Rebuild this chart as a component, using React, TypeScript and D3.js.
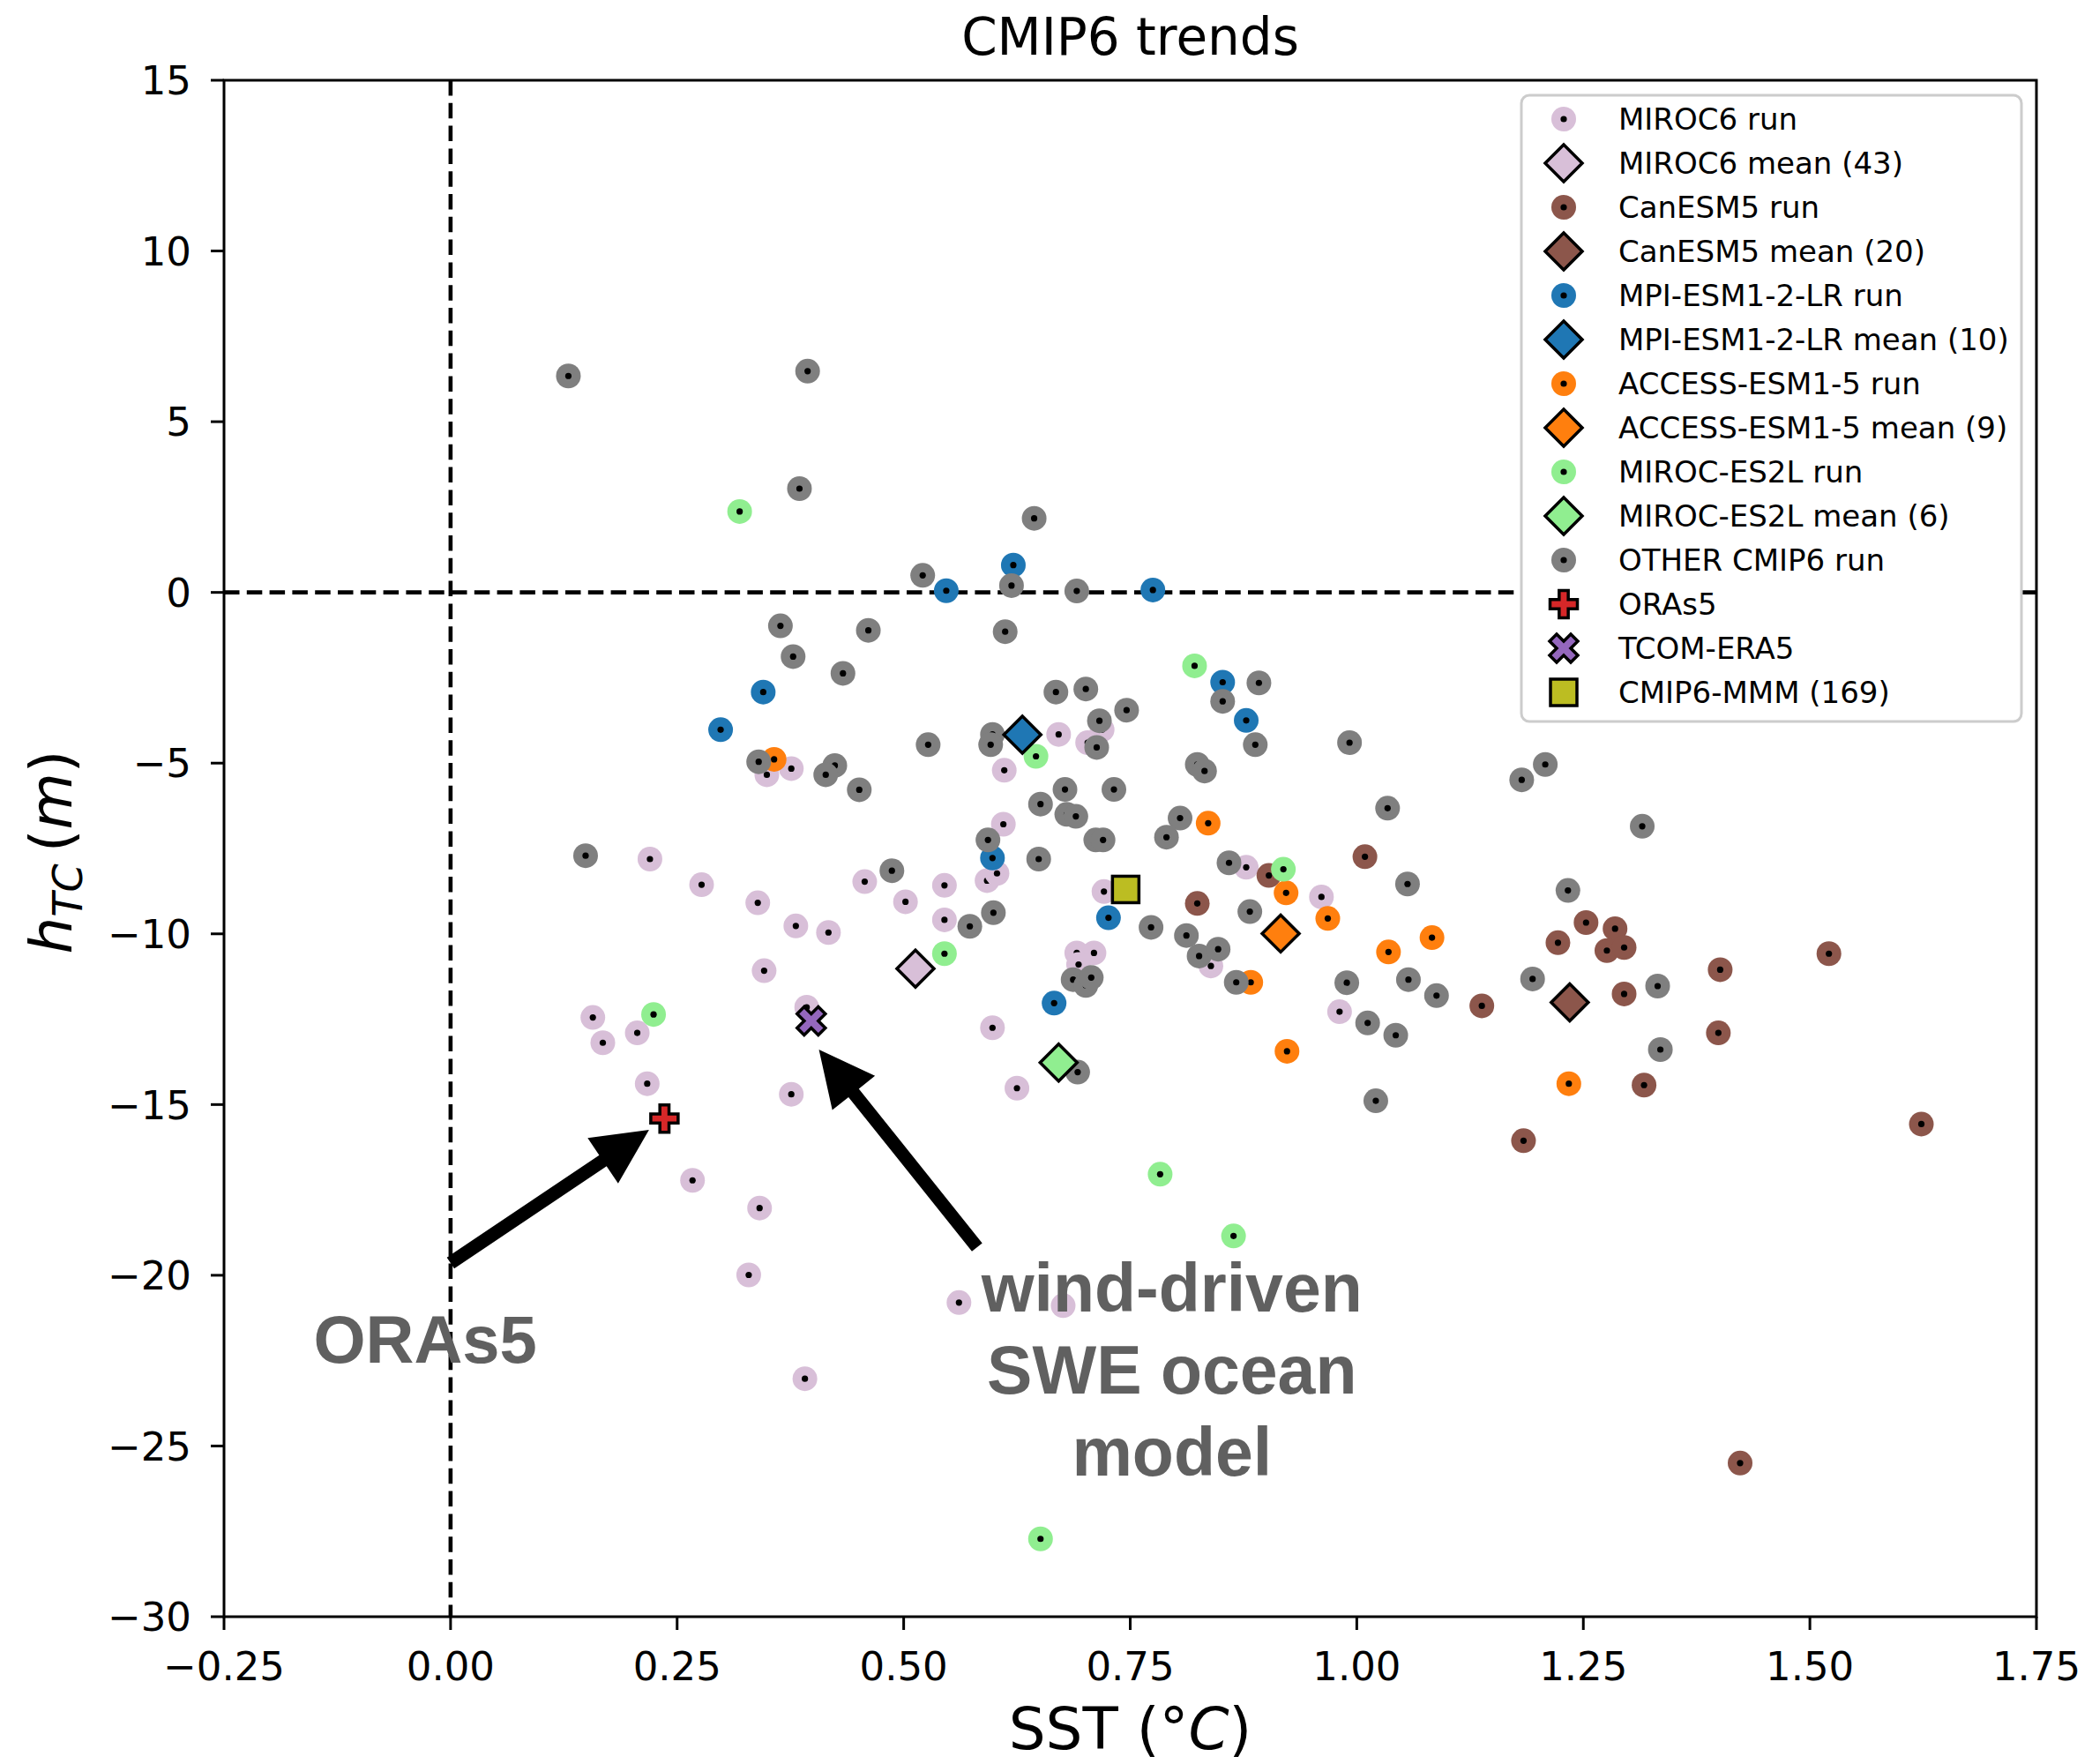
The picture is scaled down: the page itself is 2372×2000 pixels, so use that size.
import React from "react";
import * as d3 from "d3";

const W = 2372;
const H = 2000;
const plot = { left: 254, right: 2309, top: 91, bottom: 1833 };

const xTicks = [-0.25, 0, 0.25, 0.5, 0.75, 1, 1.25, 1.5, 1.75];
const yTicks = [15, 10, 5, 0, -5, -10, -15, -20, -25, -30];

// runs: [SST trend, hTC trend]
const miroc6Runs = [
  [0.671, -4.16], [0.703, -4.4], [0.719, -4.02], [0.611, -5.21], [0.376, -5.16],
  [0.349, -5.34], [0.61, -6.79], [0.592, -8.44], [0.603, -8.23], [0.22, -7.81],
  [0.277, -8.56], [0.339, -9.09], [0.457, -8.47], [0.502, -9.06], [0.545, -8.58],
  [0.545, -9.59], [0.381, -9.77], [0.417, -9.96], [0.721, -8.76], [0.878, -8.05],
  [0.961, -8.92], [0.691, -10.56], [0.71, -10.56], [0.693, -10.9], [0.839, -10.94],
  [0.346, -11.08], [0.393, -12.15], [0.206, -12.9], [0.598, -12.75], [0.217, -14.39],
  [0.376, -14.7], [0.625, -14.52], [0.267, -17.22], [0.341, -18.03], [0.157, -12.45],
  [0.168, -13.19], [0.329, -19.99], [0.561, -20.8], [0.676, -20.89], [0.391, -23.03],
  [0.981, -12.28],
];
const canesm5Runs = [
  [0.903, -8.29], [0.824, -9.11], [1.009, -7.74], [1.253, -9.67], [1.285, -9.85],
  [1.222, -10.26], [1.276, -10.49], [1.295, -10.4], [1.521, -10.58], [1.138, -12.11],
  [1.295, -11.76], [1.401, -11.05], [1.399, -12.9], [1.317, -14.43], [1.184, -16.06],
  [1.623, -15.57], [1.423, -25.5],
];
const mpiRuns = [
  [0.547, 0.05], [0.621, 0.8], [0.775, 0.07], [0.345, -2.92], [0.298, -4.02],
  [0.852, -2.63], [0.878, -3.75], [0.598, -7.78], [0.726, -9.53], [0.666, -12.03],
];
const accessRuns = [
  [0.357, -4.89], [0.836, -6.76], [0.922, -8.8], [0.883, -11.42], [0.923, -13.44],
  [0.968, -9.55], [1.083, -10.11], [1.035, -10.53], [1.234, -14.39],
];
const miroces2lRuns = [
  [0.319, 2.37], [0.821, -2.15], [0.646, -4.8], [0.919, -8.11], [0.545, -10.58],
  [0.224, -12.36], [0.783, -17.04], [0.864, -18.85], [0.651, -27.72],
];
const otherRuns = [
  [0.13, 6.34], [0.394, 6.48], [0.385, 3.04], [0.644, 2.17], [0.521, 0.5],
  [0.619, 0.2], [0.691, 0.04], [0.364, -0.98], [0.461, -1.11], [0.612, -1.15],
  [0.378, -1.88], [0.433, -2.37], [0.668, -2.92], [0.701, -2.83], [0.746, -3.45],
  [0.716, -3.76], [0.598, -4.16], [0.596, -4.46], [0.527, -4.46], [0.34, -4.96],
  [0.424, -5.07], [0.414, -5.34], [0.451, -5.78], [0.678, -5.77], [0.732, -5.77],
  [0.651, -6.2], [0.68, -6.5], [0.69, -6.56], [0.712, -7.25], [0.72, -7.25],
  [0.805, -6.61], [0.79, -7.17], [0.593, -7.25], [0.649, -7.81], [0.487, -8.15],
  [0.859, -7.92], [0.824, -5.04], [0.832, -5.23], [0.892, -2.65], [0.852, -3.19],
  [0.888, -4.46], [0.599, -9.38], [0.573, -9.78], [0.773, -9.81], [0.812, -10.05],
  [0.826, -10.65], [0.847, -10.45], [0.882, -9.35], [0.687, -11.34], [0.701, -11.51],
  [0.707, -11.28], [0.867, -11.42], [0.692, -14.05], [0.713, -4.54], [0.149, -7.71],
  [0.992, -4.4], [1.208, -5.04], [1.182, -5.49], [1.034, -6.32], [1.315, -6.85],
  [1.056, -8.54], [1.233, -8.73], [0.989, -11.43], [1.057, -11.34], [1.088, -11.81],
  [1.194, -11.32], [1.332, -11.53], [1.012, -12.61], [1.043, -12.97], [1.335, -13.39],
  [1.021, -14.89],
];

// ensemble means
const modelMeans = [
  { name: "MIROC6", n: 43, color: "#d8bfd8", pt: [0.513, -11.02] },
  { name: "CanESM5", n: 20, color: "#8c564b", pt: [1.235, -12.01] },
  { name: "MPI-ESM1-2-LR", n: 10, color: "#1f77b4", pt: [0.631, -4.17] },
  { name: "ACCESS-ESM1-5", n: 9, color: "#ff7f0e", pt: [0.916, -9.99] },
  { name: "MIROC-ES2L", n: 6, color: "#90ee90", pt: [0.671, -13.77] },
];

const oras5 = [0.236, -15.41];
const tcomEra5 = [0.398, -12.55];
const cmip6Mmm = [0.745, -8.7];

// annotations (data coords)
const oras5Arrow = [[0.0, -19.64], [0.219, -15.74]];
const sweArrow = [[0.581, -19.18], [0.4065, -13.39]];
const sweLines = ["wind-driven", "SWE ocean", "model"];

const x = d3.scaleLinear().domain([-0.25, 1.75]).range([plot.left, plot.right]);
const y = d3.scaleLinear().domain([-30, 15]).range([plot.bottom, plot.top]);
const fmtX = d3.format(".2f");
const fmtY = d3.format("d");

const runGroups = [
  { data: miroc6Runs, color: "#d8bfd8" },
  { data: canesm5Runs, color: "#8c564b" },
  { data: mpiRuns, color: "#1f77b4" },
  { data: accessRuns, color: "#ff7f0e" },
  { data: miroces2lRuns, color: "#90ee90" },
  { data: otherRuns, color: "#7f7f7f" },
];

const plusPath = d3.symbol(d3.symbolCross, 534)();
const xPath = d3.symbol(d3.symbolCross, 640)();
const diamond = (h) => `M0,${-h}L${h},0L0,${h}L${-h},0Z`;

function Run({ cx, cy, color }) {
  return (
    <g>
      <circle cx={cx} cy={cy} r={14} fill={color} />
      <circle cx={cx} cy={cy} r={3.6} fill="#000" />
    </g>
  );
}

function arrowPath(p1, p2) {
  const x1 = x(p1[0]), y1 = y(p1[1]), x2 = x(p2[0]), y2 = y(p2[1]);
  const len = Math.hypot(x2 - x1, y2 - y1);
  const ux = (x2 - x1) / len, uy = (y2 - y1) / len;
  const px = -uy, py = ux;
  const sw = 7.5, hw = 31, hl = 63;
  const bx = x2 - ux * hl, by = y2 - uy * hl;
  const pts = [
    [x1 + px * sw, y1 + py * sw],
    [bx + px * sw, by + py * sw],
    [bx + px * hw, by + py * hw],
    [x2, y2],
    [bx - px * hw, by - py * hw],
    [bx - px * sw, by - py * sw],
    [x1 - px * sw, y1 - py * sw],
  ];
  return "M" + pts.map((p) => p.join(",")).join("L") + "Z";
}

const legendItems = [];
modelMeans.forEach((m) => {
  legendItems.push({ label: `${m.name} run`, kind: "run", color: m.color });
  legendItems.push({ label: `${m.name} mean (${m.n})`, kind: "mean", color: m.color });
});
legendItems.push({ label: "OTHER CMIP6 run", kind: "run", color: "#7f7f7f" });
legendItems.push({ label: "ORAs5", kind: "plus", color: "#d62728" });
legendItems.push({ label: "TCOM-ERA5", kind: "x", color: "#9467bd" });
legendItems.push({ label: "CMIP6-MMM (169)", kind: "square", color: "#bcbd22" });

function Marker({ kind, color, cx, cy }) {
  if (kind === "run") return <Run cx={cx} cy={cy} color={color} />;
  if (kind === "mean")
    return <path d={diamond(21)} transform={`translate(${cx},${cy})`} fill={color} stroke="#000" strokeWidth={3.5} />;
  if (kind === "plus")
    return <path d={plusPath} transform={`translate(${cx},${cy})`} fill={color} stroke="#000" strokeWidth={3.5} />;
  if (kind === "x")
    return <path d={xPath} transform={`translate(${cx},${cy}) rotate(45)`} fill={color} stroke="#000" strokeWidth={3.5} />;
  return <rect x={cx - 15} y={cy - 15} width={30} height={30} fill={color} stroke="#000" strokeWidth={3.5} />;
}

export default function App() {
  const font = "DejaVu Sans, sans-serif";
  const annFont = "Liberation Sans, Arial, sans-serif";
  return (
    <svg width={W} height={H} style={{ position: "absolute", left: 0, top: 0, background: "#fff" }} fontFamily={font}>
      <rect width={W} height={H} fill="#fff" />
      <text x={(plot.left + plot.right) / 2} y={62} fontSize={58} textAnchor="middle">CMIP6 trends</text>

      {/* reference lines */}
      <line x1={x(0)} x2={x(0)} y1={plot.top} y2={plot.bottom} stroke="#000" strokeWidth={4.6} strokeDasharray="17.5 8.3" />
      <line x1={plot.left} x2={plot.right} y1={y(0)} y2={y(0)} stroke="#000" strokeWidth={4.6} strokeDasharray="17.5 8.3" />

      {/* runs */}
      {runGroups.map((g, gi) => (
        <g key={gi}>
          {g.data.map((d, i) => (
            <Run key={i} cx={x(d[0])} cy={y(d[1])} color={g.color} />
          ))}
        </g>
      ))}
      {modelMeans.map((m) => (
        <Marker key={m.name} kind="mean" color={m.color} cx={x(m.pt[0])} cy={y(m.pt[1])} />
      ))}
      <Marker kind="plus" color="#d62728" cx={x(oras5[0])} cy={y(oras5[1])} />
      <Marker kind="x" color="#9467bd" cx={x(tcomEra5[0])} cy={y(tcomEra5[1])} />
      <Marker kind="square" color="#bcbd22" cx={x(cmip6Mmm[0])} cy={y(cmip6Mmm[1])} />

      {/* annotations */}
      <path d={arrowPath(oras5Arrow[0], oras5Arrow[1])} fill="#000" />
      <path d={arrowPath(sweArrow[0], sweArrow[1])} fill="#000" />
      <text x={x(-0.028)} y={y(-22.56)} fontFamily={annFont} fontWeight="bold" fontSize={76} fill="#606060" textAnchor="middle">ORAs5</text>
      <text fontFamily={annFont} fontWeight="bold" fontSize={77} fill="#606060" textAnchor="middle">
        {sweLines.map((s, i) => (
          <tspan key={i} x={x(0.796)} y={y(-21.07) + i * 93}>{s}</tspan>
        ))}
      </text>

      {/* frame */}
      <rect x={plot.left} y={plot.top} width={plot.right - plot.left} height={plot.bottom - plot.top} fill="none" stroke="#000" strokeWidth={3} />

      {/* x axis */}
      {xTicks.map((t) => (
        <g key={t}>
          <line x1={x(t)} x2={x(t)} y1={plot.bottom} y2={plot.bottom + 15} stroke="#000" strokeWidth={3} />
          <text x={x(t)} y={1905} fontSize={45} textAnchor="middle">{fmtX(t)}</text>
        </g>
      ))}
      {/* y axis */}
      {yTicks.map((t) => (
        <g key={t}>
          <line x1={plot.left - 15} x2={plot.left} y1={y(t)} y2={y(t)} stroke="#000" strokeWidth={3} />
          <text x={217} y={y(t)} dy="0.36em" fontSize={45} textAnchor="end">{fmtY(t)}</text>
        </g>
      ))}

      <text x={(plot.left + plot.right) / 2} y={1983} fontSize={66} textAnchor="middle">
        SST (°<tspan fontStyle="italic">C</tspan>)
      </text>
      <text transform={`translate(81,966) rotate(-90)`} fontSize={66} textAnchor="middle">
        <tspan fontStyle="italic">h</tspan>
        <tspan fontStyle="italic" fontSize={46} dy={12}>TC</tspan>
        <tspan dy={-12}>{"\u2009("}</tspan>
        <tspan fontStyle="italic">m</tspan>
        <tspan>)</tspan>
      </text>

      {/* legend */}
      <rect x={1725} y={108} width={567} height={710} rx={9} fill="#fff" stroke="#cccccc" strokeWidth={3} />
      {legendItems.map((it, i) => (
        <g key={it.label}>
          <Marker kind={it.kind} color={it.color} cx={1773} cy={135 + 50 * i} />
          <text x={1835} y={135 + 50 * i} dy="0.36em" fontSize={34}>{it.label}</text>
        </g>
      ))}
    </svg>
  );
}
